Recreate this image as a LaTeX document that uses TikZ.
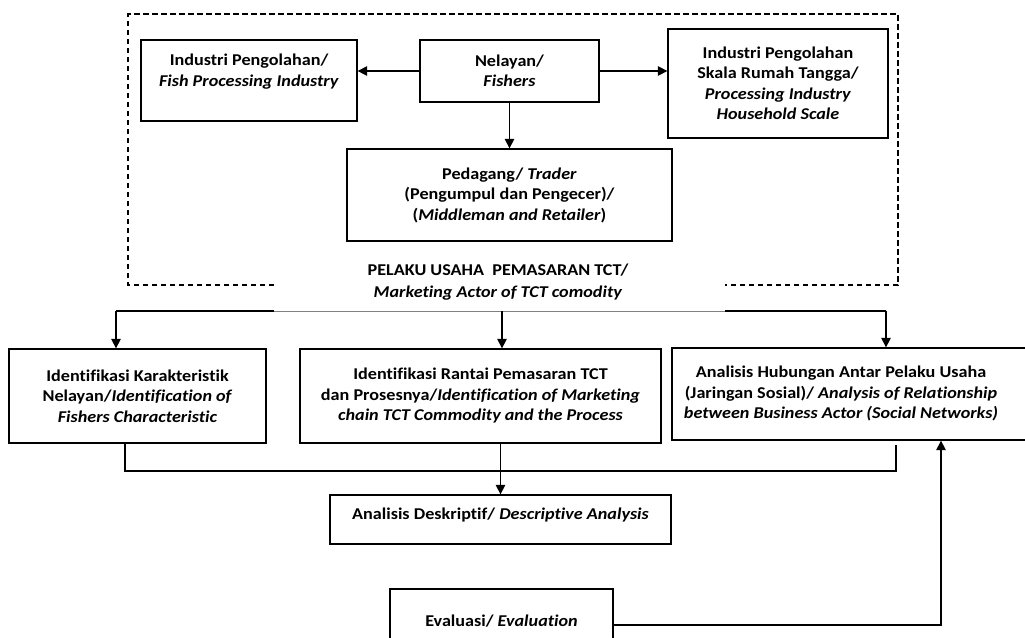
\documentclass[tikz,border=0pt]{standalone}
\usepackage{fontspec}
\setmainfont{Carlito}[Ligatures=NoCommon,FakeStretch=1.1]
\usepackage{tikz}
\usetikzlibrary{arrows.meta}

\begin{document}
\begin{tikzpicture}[x=1pt,y=-1pt,
  box/.style={draw,line width=1.3pt,align=center,inner sep=2pt,
    font=\bfseries\fontsize{16.5}{20.5}\selectfont},
  title/.style={align=center,font=\bfseries\fontsize{16.5}{21.5}\selectfont},
  link/.style={line width=1.3pt,-{Triangle[width=9.5pt,length=9.5pt]}},
  line/.style={line width=1.3pt}]
% Page size
\clip (0,0) rectangle (1025,637);

% Dashed frame of the marketing actors
\draw[line width=1.1pt,dash pattern=on 5.5pt off 3.5pt] (274,285) -- (128,285) -- (128,14) -- (898,14) -- (898,285) -- (725,285);

% Marketing actors
\node[box,minimum width=216pt,minimum height=81pt] (proc) at (249,80.5)
  {Industri Pengolahan/\\\textit{Fish Processing Industry}\\\mbox{}};
\node[box,minimum width=179pt,minimum height=62pt] (fish) at (509.5,71)
  {Nelayan/\\\textit{Fishers}};
\node[box,minimum width=220pt,minimum height=109pt] (home) at (778,83.5)
  {Industri Pengolahan\\Skala Rumah Tangga/\\\textit{Processing Industry}\\\textit{Household Scale}};
\node[box,minimum width=325pt,minimum height=92pt] (trader) at (509.5,195)
  {Pedagang/ \textit{Trader}\\(Pengumpul dan Pengecer)/\\(\textit{Middleman and Retailer})};
\node[title] (actor) at (498,282)
  {PELAKU USAHA\ \ PEMASARAN TCT/\\\textit{Marketing Actor of TCT comodity}};

% Flows between actors
\draw[link] (fish.west) -- (fish.west -| proc.east);
\draw[link] (fish.east) -- (fish.east -| home.west);
\draw[link] (fish.south) -- (trader.north);

% Analysis steps
\node[box,minimum width=257pt,minimum height=94pt] (chr) at (137.5,396)
  {Identifikasi Karakteristik\\Nelayan/\textit{Identification of}\\\textit{Fishers Characteristic}};
\node[box,minimum width=361pt,minimum height=94pt] (chain) at (480.5,396)
  {Identifikasi Rantai Pemasaran TCT\\dan Prosesnya/\textit{Identification of Marketing}\\\textit{chain TCT Commodity and the Process}};
\node[box,minimum width=368pt,minimum height=92pt] (net) at (856,394)
  {\begin{tabular}{@{}c@{\hspace{30pt}}}Analisis Hubungan Antar Pelaku Usaha\\(Jaringan Sosial)/ \textit{Analysis of Relationship}\\\textit{between Business Actor (Social Networks)}\end{tabular}};
\node[box,minimum width=341pt,minimum height=49pt,text depth=11pt] (desc) at (500.5,519.5)
  {Analisis Deskriptif/ \textit{Descriptive Analysis}};
\node[box,minimum width=223pt,minimum height=64pt] (eval) at (501.5,621)
  {Evaluasi/ \textit{Evaluation}};

% Split to the analysis steps
\coordinate (busL) at (116,311);
\coordinate (gapL) at (274,311);
\coordinate (busM) at (502,311);
\coordinate (gapR) at (725,311);
\coordinate (busR) at (886,311);
\draw[line] (busL) -- (gapL);
\draw[gray,line width=0.6pt] (gapL) -- (gapR);
\draw[line] (gapR) -- (busR);
\draw[link] (busL) -- (busL |- chr.north);
\draw[link] (busM) -- (busM |- chain.north);
\draw[link] (busR) -- (busR |- net.north);

% Merge into descriptive analysis
\coordinate (merge) at (500.5,471);
\draw[line] ([xshift=-12.5pt]chr.south) |- (merge) -| ([xshift=40pt,yshift=-4pt]net.south);
\draw[link] (merge |- chain.south) -- (desc.north);

% Evaluation feedback
\draw[link] ([yshift=-4pt]eval.east) -| ([xshift=85pt]net.south);
\end{tikzpicture}
\end{document}
